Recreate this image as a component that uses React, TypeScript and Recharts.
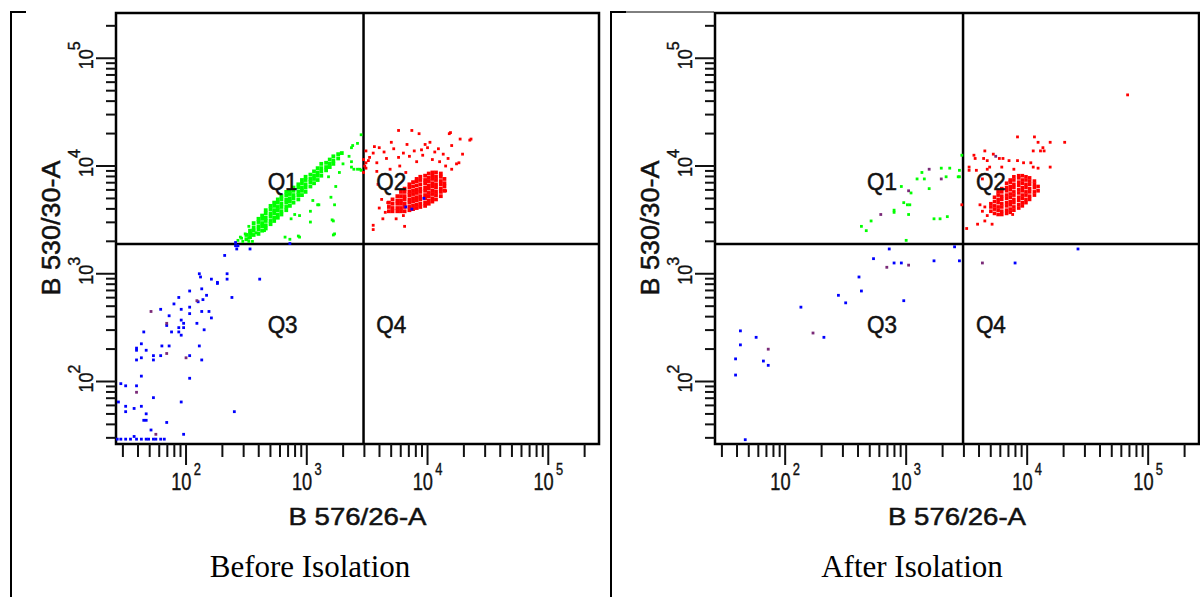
import { ReferenceArea, ReferenceDot, ReferenceLine, Scatter, ScatterChart, XAxis, YAxis } from "recharts";

// both panels are log/log cytometry plots, every value is log10 of the channel
const AXIS_MIN = 1.42;
const AXIS_MAX = 5.42;
const DECADES = [1, 2, 3, 4, 5];
const MULTIPLIERS = [1, 2, 3, 4, 5, 6, 7, 8, 9];
const GATE_X = 3.47;
const GATE_Y = 3.275;

const QUADRANT_NAMES = ["Q1", "Q2", "Q3", "Q4"];
const QUADRANT_X = [2.8, 3.7, 2.8, 3.7];
const QUADRANT_Y = [3.85, 3.85, 2.52, 2.52];

const X_TITLE = "B 576/26-A";
const Y_TITLE = "B 530/30-A";
const CAPTIONS = ["Before Isolation", "After Isolation"];

const GREEN = "#00ff00";
const RED = "#ff0000";
const BLUE = "#0000ff";
const PURPLE = "#7a2a78";
const INK = "#111";

// ---- Before isolation ----
// dense columns: [x, y, y, ...]
const BEFORE_GREEN_CORE = [
  [2.5, 3.32, 3.36],
  [2.53, 3.34, 3.37, 3.4],
  [2.56, 3.36, 3.4, 3.43, 3.47],
  [2.6, 3.37, 3.41, 3.44, 3.48, 3.51],
  [2.63, 3.4, 3.44, 3.47, 3.51, 3.54],
  [2.66, 3.42, 3.45, 3.49, 3.52, 3.56, 3.59],
  [2.7, 3.46, 3.49, 3.53, 3.56, 3.6, 3.63],
  [2.73, 3.49, 3.52, 3.56, 3.59, 3.63, 3.66],
  [2.76, 3.52, 3.55, 3.59, 3.62, 3.66, 3.69],
  [2.79, 3.55, 3.58, 3.62, 3.65, 3.69, 3.72],
  [2.83, 3.59, 3.62, 3.66, 3.69, 3.73, 3.76],
  [2.86, 3.63, 3.67, 3.7, 3.74, 3.77],
  [2.89, 3.66, 3.7, 3.73, 3.77, 3.8],
  [2.93, 3.69, 3.73, 3.76, 3.8, 3.83],
  [2.96, 3.73, 3.77, 3.8, 3.84, 3.87],
  [2.99, 3.76, 3.8, 3.83, 3.87, 3.9],
  [3.03, 3.81, 3.85, 3.88, 3.92],
  [3.06, 3.84, 3.88, 3.91, 3.95],
  [3.09, 3.87, 3.91, 3.94, 3.98],
  [3.12, 3.91, 3.95, 3.98, 4.02],
  [3.16, 3.96, 3.99, 4.03],
  [3.19, 3.99, 4.02, 4.06],
  [3.22, 4.02, 4.05, 4.09],
  [3.26, 4.07, 4.11],
  [3.29, 4.12],
];

const BEFORE_GREEN = [
  [3.45, 4.29], [3.42, 4.21], [3.38, 4.19], [3.35, 4.09], [3.37, 4.04], [3.42, 3.97], [3.44, 3.97],
  [3.39, 3.97], [3.3, 4.02], [3.27, 3.94], [3.18, 3.9], [3.2, 3.71], [3.24, 3.81], [3.05, 3.68],
  [3.09, 3.64], [3.03, 3.58], [2.9, 3.55], [2.94, 3.54], [2.87, 3.51], [3.22, 3.49], [3.22, 3.36],
  [2.94, 3.34], [2.82, 3.34], [2.52, 3.33], [2.49, 3.37], [2.56, 3.41], [2.52, 3.44], [2.58, 3.38],
  [2.65, 3.4], [2.55, 3.3], [2.46, 3.33], [2.54, 3.37], [2.45, 3.34], [2.43, 3.31], [2.47, 3.3],
  [2.52, 3.3], [2.93, 3.35], [3.23, 3.37], [3.37, 4.17], [3.45, 3.96], [3.37, 3.99], [3.23, 3.64],
  [3.21, 3.5], [3.1, 3.64], [3.03, 3.48], [2.86, 3.32],
];

const BEFORE_RED_CORE = [
  [3.68, 3.58, 3.62, 3.66],
  [3.71, 3.58, 3.61, 3.65, 3.69],
  [3.75, 3.58, 3.61, 3.65, 3.68, 3.72],
  [3.78, 3.58, 3.61, 3.65, 3.68, 3.72, 3.76],
  [3.81, 3.58, 3.62, 3.65, 3.69, 3.72, 3.76, 3.79],
  [3.85, 3.59, 3.62, 3.66, 3.69, 3.73, 3.76, 3.8, 3.83],
  [3.88, 3.6, 3.63, 3.67, 3.7, 3.74, 3.77, 3.81, 3.85],
  [3.91, 3.61, 3.64, 3.68, 3.71, 3.75, 3.78, 3.82, 3.86, 3.88],
  [3.94, 3.62, 3.65, 3.69, 3.72, 3.76, 3.79, 3.83, 3.87, 3.9],
  [3.98, 3.63, 3.66, 3.7, 3.73, 3.77, 3.8, 3.84, 3.87, 3.91],
  [4.01, 3.65, 3.68, 3.72, 3.75, 3.79, 3.82, 3.86, 3.89, 3.93],
  [4.04, 3.67, 3.7, 3.74, 3.77, 3.81, 3.84, 3.88, 3.91, 3.94],
  [4.07, 3.69, 3.73, 3.76, 3.8, 3.83, 3.87, 3.9, 3.94],
  [4.11, 3.72, 3.76, 3.79, 3.83, 3.86, 3.9, 3.93],
  [4.14, 3.77, 3.81, 3.84, 3.88],
];

const BEFORE_RED = [
  [3.76, 4.33], [3.87, 4.33], [3.93, 4.3], [4.18, 4.3], [4.27, 4.25], [4.35, 4.24], [4.2, 4.19],
  [4.29, 4.11], [4.26, 4.03], [4.02, 4.22], [3.98, 4.2], [4.09, 4.16], [3.7, 4.22], [3.6, 4.17],
  [3.49, 4.14], [3.55, 4.12], [3.51, 4.05], [3.49, 4.03], [3.58, 4.03], [3.66, 4.07], [3.76, 4.08],
  [3.8, 4.12], [3.85, 4.09], [3.89, 4.14], [3.91, 4.04], [3.96, 4.1], [4.0, 4.17], [4.04, 4.06],
  [4.1, 4.04], [4.13, 4.11], [4.15, 4.0], [4.2, 3.97], [3.49, 3.98], [3.58, 3.95], [3.69, 3.97],
  [3.77, 4.0], [3.82, 3.94], [3.59, 3.83], [3.62, 3.69], [3.67, 3.66], [3.6, 3.61], [3.65, 3.57],
  [3.63, 3.51], [3.55, 3.45], [3.55, 3.41], [3.74, 3.51], [3.81, 3.44], [3.8, 3.54], [4.15, 3.77],
  [4.19, 4.31], [4.36, 4.25], [4.24, 4.02], [3.47, 4.06], [3.47, 3.94], [3.48, 4.0], [3.52, 4.08],
  [3.56, 4.18], [3.64, 4.13], [3.72, 4.16], [3.83, 4.2], [3.95, 4.15], [4.06, 4.13], [4.17, 4.07],
];

const BEFORE_BLUE = [
  [2.32, 3.17], [2.41, 3.26], [2.42, 3.23], [2.53, 3.23], [2.86, 3.28], [2.41, 3.29], [2.43, 3.26],
  [2.11, 3.0], [2.12, 2.97], [2.21, 2.95], [2.26, 2.92], [2.26, 2.91], [2.34, 3.0], [2.34, 2.95],
  [2.61, 2.95], [2.38, 2.78], [1.94, 2.78], [1.9, 2.72], [2.03, 2.84], [2.13, 2.86], [2.17, 2.8],
  [2.14, 2.76], [2.1, 2.74], [2.03, 2.69], [1.96, 2.67], [2.13, 2.65], [2.19, 2.65], [2.21, 2.59],
  [2.03, 2.63], [1.79, 2.67], [1.86, 2.61], [1.84, 2.52], [1.96, 2.57], [1.98, 2.54], [1.98, 2.5],
  [1.94, 2.5], [1.88, 2.46], [1.94, 2.46], [1.96, 2.43], [2.09, 2.54], [2.15, 2.48], [1.65, 2.46],
  [1.63, 2.35], [1.59, 2.31], [1.59, 2.29], [1.67, 2.29], [1.8, 2.33], [1.86, 2.33], [2.11, 2.33],
  [1.73, 2.24], [1.79, 2.24], [2.03, 2.24], [1.59, 2.2], [1.63, 2.22], [1.73, 2.2], [2.13, 2.2],
  [1.63, 2.05], [2.03, 2.03], [1.46, 1.98], [1.5, 1.96], [1.59, 1.96], [1.44, 1.81], [1.5, 1.77],
  [1.5, 1.72], [1.57, 1.75], [1.63, 1.77], [1.67, 1.7], [1.65, 1.64], [1.67, 1.64], [1.73, 1.85],
  [1.96, 1.81], [1.84, 1.62], [1.71, 1.55], [1.98, 1.51], [2.4, 1.72],
  [1.43, 1.465], [1.46, 1.465], [1.5, 1.465], [1.54, 1.465], [1.57, 1.49], [1.59, 1.465],
  [1.63, 1.465], [1.67, 1.465], [1.69, 1.465], [1.73, 1.465], [1.75, 1.465], [1.79, 1.465], [1.82, 1.465],
  [3.97, 3.7], [3.82, 3.62], [3.87, 3.6],
];

const BEFORE_PURPLE = [
  [2.09, 2.75], [1.71, 2.65], [1.84, 2.54], [1.59, 1.9], [1.84, 2.26], [2.0, 2.22], [1.75, 1.51],
];

// ---- After isolation ----
const AFTER_RED_CORE = [
  [3.7, 3.58, 3.62, 3.65],
  [3.73, 3.56, 3.6, 3.63, 3.67, 3.71],
  [3.76, 3.55, 3.59, 3.62, 3.66, 3.69, 3.73, 3.76],
  [3.79, 3.55, 3.58, 3.62, 3.65, 3.69, 3.72, 3.76, 3.79],
  [3.83, 3.56, 3.59, 3.63, 3.66, 3.7, 3.73, 3.77, 3.8, 3.84],
  [3.86, 3.57, 3.6, 3.64, 3.67, 3.71, 3.74, 3.78, 3.81, 3.85, 3.87],
  [3.89, 3.59, 3.62, 3.66, 3.69, 3.73, 3.76, 3.8, 3.83, 3.87, 3.9],
  [3.93, 3.61, 3.64, 3.68, 3.71, 3.75, 3.78, 3.82, 3.85, 3.89, 3.91],
  [3.96, 3.63, 3.66, 3.7, 3.73, 3.77, 3.8, 3.84, 3.87, 3.91],
  [3.99, 3.66, 3.69, 3.73, 3.76, 3.8, 3.83, 3.87, 3.9],
  [4.02, 3.69, 3.72, 3.76, 3.79, 3.83, 3.86, 3.89],
  [4.06, 3.73, 3.76, 3.8, 3.83, 3.86],
  [4.09, 3.77, 3.81],
];

const AFTER_RED = [
  [3.92, 4.27], [4.06, 4.27], [4.09, 4.22], [4.19, 4.22], [4.31, 4.22], [4.13, 4.17], [4.05, 4.14],
  [4.11, 4.14], [3.65, 4.14], [3.72, 4.11], [3.56, 4.1], [3.57, 4.07], [3.64, 4.07], [3.67, 4.05],
  [3.77, 4.07], [3.8, 4.07], [3.85, 4.05], [3.92, 4.05], [3.97, 4.03], [4.03, 4.03], [4.05, 3.99],
  [4.09, 3.98], [4.19, 3.99], [3.52, 3.99], [3.52, 3.96], [3.58, 3.96], [3.67, 3.97], [3.69, 3.99],
  [3.79, 3.99], [3.89, 3.97], [3.63, 3.88], [3.46, 3.64], [3.61, 3.64], [3.65, 3.62], [3.63, 3.58],
  [3.67, 3.54], [3.65, 3.49], [3.71, 3.46], [3.59, 3.46], [3.5, 3.42], [3.88, 3.55], [4.83, 4.66],
  [4.14, 4.14],
];

const AFTER_GREEN = [
  [3.46, 4.1], [3.29, 3.98], [3.36, 3.98], [3.44, 3.96], [3.43, 3.9], [3.44, 3.9], [3.13, 3.94],
  [3.09, 3.88], [3.15, 3.88], [3.33, 3.9], [2.96, 3.81], [3.04, 3.75], [3.19, 3.79], [2.98, 3.66],
  [3.01, 3.64], [3.03, 3.64], [2.9, 3.59], [2.9, 3.57], [3.02, 3.55], [3.23, 3.51], [3.28, 3.51],
  [3.34, 3.53], [2.71, 3.49], [2.63, 3.44], [2.67, 3.4], [3.0, 3.31],
];

const AFTER_BLUE = [
  [2.86, 3.23], [3.4, 3.25], [4.42, 3.23], [2.73, 3.14], [2.9, 3.1], [2.96, 3.1], [3.23, 3.12],
  [3.44, 3.12], [3.9, 3.1], [2.61, 2.97], [2.63, 2.84], [2.44, 2.8], [2.5, 2.73], [2.98, 2.75],
  [2.13, 2.69], [2.32, 2.41], [1.63, 2.47], [1.63, 2.34], [1.76, 2.41], [1.59, 2.21], [1.82, 2.19],
  [1.86, 2.15], [1.59, 2.06], [1.67, 1.46],
];

const AFTER_PURPLE = [
  [3.19, 3.97], [3.29, 3.88], [3.02, 3.77], [2.79, 3.55], [3.74, 4.09], [2.84, 3.06], [3.02, 3.08],
  [3.63, 3.1], [2.23, 2.45], [1.86, 2.3],
];

const TICKS = DECADES.flatMap((d) => MULTIPLIERS.map((m) => d + Math.log10(m))).filter(
  (v) => v >= AXIS_MIN && v <= AXIS_MAX
);

const toPoints = (pairs: number[][]) => pairs.map(([x, y]) => ({ x, y }));
const fromColumns = (cols: number[][]) => cols.flatMap(([x, ...ys]) => ys.map((y) => ({ x, y })));

const isMajor = (v: number) => Math.abs(v - Math.round(v)) < 1e-9;

const LABEL_FONT = '"Liberation Sans", Arial, sans-serif';

function XTick(props: any) {
  const { x, y, payload } = props;
  const major = isMajor(payload.value);
  return (
    <g>
      <line x1={x} x2={x} y1={y} y2={y + (major ? 21 : 13)} stroke={INK} strokeWidth={2} />
      {major && (
        <text
          transform={`translate(${x} ${y + 46}) scale(0.76 1)`}
          textAnchor="middle"
          fontFamily={LABEL_FONT}
          fontSize={24}
          fill={INK}
          stroke={INK}
          strokeWidth={0.4}
        >
          10
          <tspan dx={3} dy={-15} fontSize={17}>
            {Math.round(payload.value)}
          </tspan>
        </text>
      )}
    </g>
  );
}

function YTick(props: any) {
  const { x, y, payload } = props;
  const major = isMajor(payload.value);
  return (
    <g>
      <line x1={x} x2={x - (major ? 20 : 10)} y1={y} y2={y} stroke={INK} strokeWidth={2} />
      {major && (
        <text
          x={x + 3}
          y={y - 23}
          transform={`rotate(-90 ${x} ${y})`}
          textAnchor="middle"
          fontFamily={LABEL_FONT}
          fontSize={21}
          fill={INK}
          stroke={INK}
          strokeWidth={0.4}
        >
          <tspan textLength={20} lengthAdjust="spacingAndGlyphs">10</tspan>
          <tspan dx={-1} dy={-13} fontSize={16}>
            {Math.round(payload.value)}
          </tspan>
        </text>
      )}
    </g>
  );
}

const square = (size: number, color: string) => (p: any) => (
  <rect x={p.cx - size / 2} y={p.cy - size / 2} width={size} height={size} fill={color} />
);

type Series = { name: string; points: { x: number; y: number }[]; color: string; size: number };

interface PanelProps {
  left: number;
  width: number;
  axisWidth: number;
  marginRight: number;
  series: Series[];
  caption: string;
  captionX: number;
}

function Panel({ left, width, axisWidth, marginRight, series, caption, captionX }: PanelProps) {
  const plotCenter = (axisWidth + width - marginRight) / 2;
  return (
    <div style={{ position: "absolute", left, top: 0, width, height: 597 }}>
      <ScatterChart width={width} height={597} margin={{ top: 13, right: marginRight, bottom: 0, left: 0 }}>
        <XAxis
          type="number"
          dataKey="x"
          domain={[AXIS_MIN, AXIS_MAX]}
          ticks={TICKS}
          interval={0}
          allowDataOverflow
          axisLine={false}
          tickLine={false}
          tickSize={0}
          tickMargin={0}
          height={153}
          tick={<XTick />}
        />
        <YAxis
          type="number"
          dataKey="y"
          domain={[AXIS_MIN, AXIS_MAX]}
          ticks={TICKS}
          interval={0}
          allowDataOverflow
          axisLine={false}
          tickLine={false}
          tickSize={0}
          tickMargin={0}
          width={axisWidth}
          tick={<YTick />}
        />
        {series.map((s) => (
          <Scatter
            key={s.name}
            name={s.name}
            data={s.points}
            fill={s.color}
            shape={square(s.size, s.color)}
            isAnimationActive={false}
          />
        ))}
        <ReferenceLine x={GATE_X} stroke="#000" strokeWidth={2.5} />
        <ReferenceLine y={GATE_Y} stroke="#000" strokeWidth={2.5} />
        <ReferenceArea
          x1={AXIS_MIN}
          x2={AXIS_MAX}
          y1={AXIS_MIN}
          y2={AXIS_MAX}
          fill="none"
          stroke="#000"
          strokeWidth={2.5}
          ifOverflow="visible"
        />
        {QUADRANT_NAMES.map((q, i) => (
          <ReferenceDot
            key={q}
            x={QUADRANT_X[i]}
            y={QUADRANT_Y[i]}
            r={0}
            ifOverflow="visible"
            shape={(p: any) => (
              <text
                x={p.cx}
                y={p.cy + 8}
                textAnchor="middle"
                fontFamily={LABEL_FONT}
                fontSize={23}
                textLength={30}
                lengthAdjust="spacingAndGlyphs"
                fill={INK}
                stroke={INK}
                strokeWidth={0.5}
              >
                {q}
              </text>
            )}
          />
        ))}
      </ScatterChart>
      <svg width={width} height={597} style={{ position: "absolute", left: 0, top: 0, pointerEvents: "none" }}>
        <text
          x={plotCenter}
          y={525}
          textAnchor="middle"
          fontFamily={LABEL_FONT}
          fontSize={24}
          textLength={138}
          lengthAdjust="spacingAndGlyphs"
          fill={INK}
          stroke={INK}
          strokeWidth={0.5}
        >
          {X_TITLE}
        </text>
        <text
          x={axisWidth - 56}
          y={228}
          transform={`rotate(-90 ${axisWidth - 56} 228)`}
          textAnchor="middle"
          fontFamily={LABEL_FONT}
          fontSize={26}
          textLength={135}
          lengthAdjust="spacingAndGlyphs"
          fill={INK}
          stroke={INK}
          strokeWidth={0.5}
        >
          {Y_TITLE}
        </text>
        <text
          x={captionX}
          y={577}
          textAnchor="middle"
          fontFamily='"Liberation Serif", "Times New Roman", serif'
          fontSize={31}
          fill="#000"
        >
          {caption}
        </text>
      </svg>
    </div>
  );
}

const BEFORE_SERIES: Series[] = [
  { name: "Q1 core", points: fromColumns(BEFORE_GREEN_CORE), color: GREEN, size: 3.8 },
  { name: "Q1", points: toPoints(BEFORE_GREEN), color: GREEN, size: 2.8 },
  { name: "Q2 core", points: fromColumns(BEFORE_RED_CORE), color: RED, size: 3.8 },
  { name: "Q2", points: toPoints(BEFORE_RED), color: RED, size: 2.8 },
  { name: "Q3", points: toPoints(BEFORE_BLUE), color: BLUE, size: 2.8 },
  { name: "mixed", points: toPoints(BEFORE_PURPLE), color: PURPLE, size: 2.8 },
];

const AFTER_SERIES: Series[] = [
  { name: "Q1", points: toPoints(AFTER_GREEN), color: GREEN, size: 2.8 },
  { name: "Q2 core", points: fromColumns(AFTER_RED_CORE), color: RED, size: 3.6 },
  { name: "Q2", points: toPoints(AFTER_RED), color: RED, size: 2.8 },
  { name: "Q3", points: toPoints(AFTER_BLUE), color: BLUE, size: 2.8 },
  { name: "mixed", points: toPoints(AFTER_PURPLE), color: PURPLE, size: 2.8 },
];

export default function App() {
  return (
    <div
      style={{
        position: "absolute",
        left: 0,
        top: 0,
        width: 1200,
        height: 597,
        background: "#fff",
        overflow: "hidden",
      }}
    >
      <Panel
        left={0}
        width={610}
        axisWidth={116}
        marginRight={11}
        series={BEFORE_SERIES}
        caption={CAPTIONS[0]}
        captionX={310}
      />
      <Panel
        left={600}
        width={600}
        axisWidth={115}
        marginRight={1}
        series={AFTER_SERIES}
        caption={CAPTIONS[1]}
        captionX={312}
      />
      <svg width={1200} height={597} style={{ position: "absolute", left: 0, top: 0, pointerEvents: "none" }}>
        <line x1={11} y1={11} x2={11} y2={597} stroke="#000" strokeWidth={2} />
        <line x1={611} y1={11} x2={611} y2={597} stroke="#000" strokeWidth={2} />
        <line x1={10} y1={12} x2={26} y2={12} stroke="#000" strokeWidth={2} />
        <line x1={610} y1={12} x2={626} y2={12} stroke="#000" strokeWidth={2} />
        <line x1={626} y1={12} x2={714} y2={12} stroke="#000" strokeWidth={1} />
      </svg>
    </div>
  );
}
